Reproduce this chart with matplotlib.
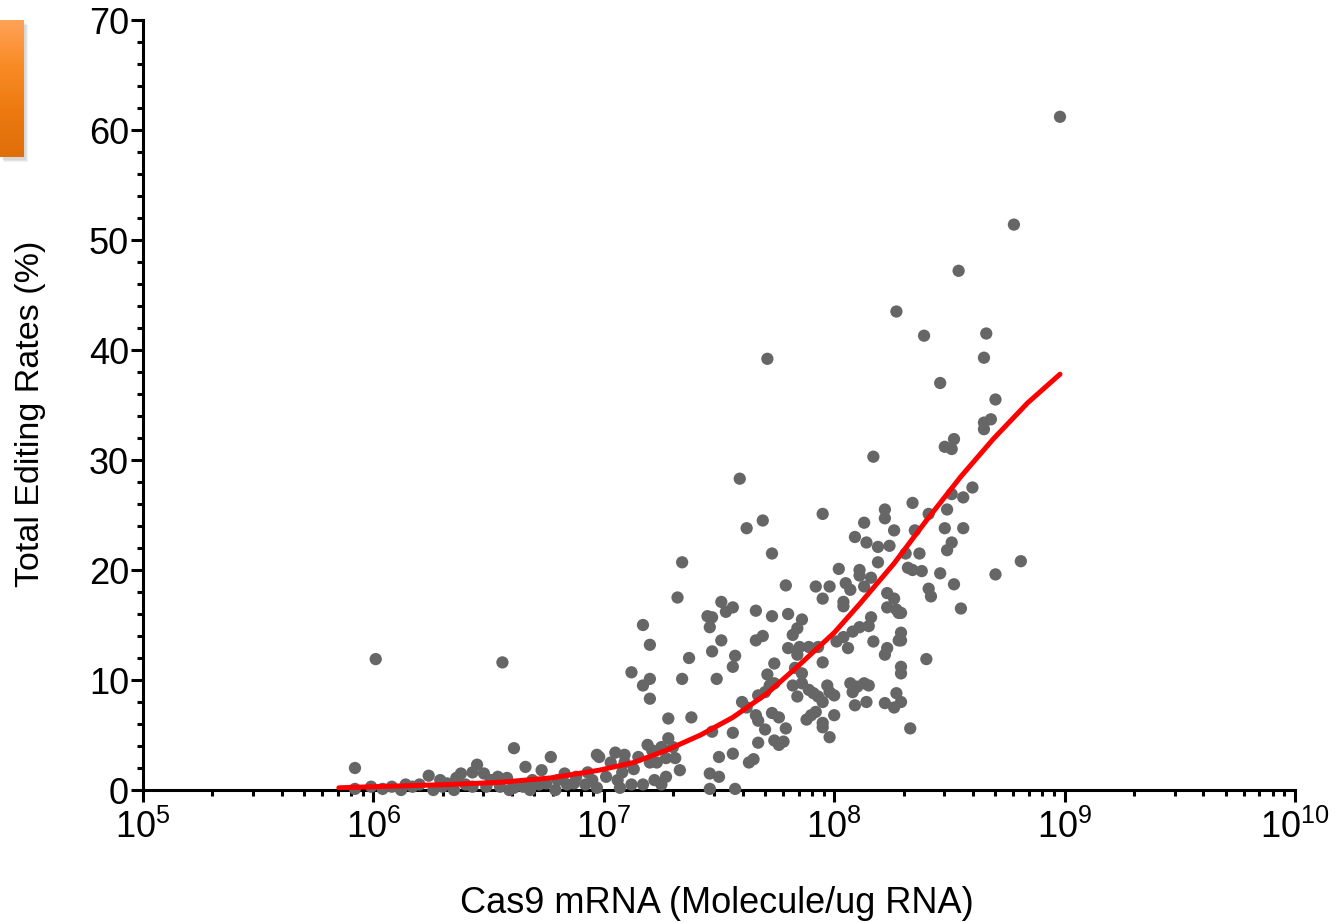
import numpy as np
import matplotlib
matplotlib.use('Agg')
import matplotlib.pyplot as plt
from matplotlib.ticker import LogLocator, MultipleLocator, NullFormatter
from matplotlib.patches import Rectangle
from matplotlib.colors import LinearSegmentedColormap

plt.rcParams['font.family'] = ['Liberation Sans', 'DejaVu Sans']
plt.rcParams['mathtext.fontset'] = 'custom'
plt.rcParams['mathtext.rm'] = 'Liberation Sans'
plt.rcParams['mathtext.it'] = 'Liberation Sans:italic'
plt.rcParams['mathtext.bf'] = 'Liberation Sans:bold'
plt.rcParams['mathtext.default'] = 'regular'

# ---- data: log10(Cas9 mRNA molecules / ug RNA) and total editing rate (%) ----
log_cas9 = [
    # low range (1e6 - 1e7)
    6.01, 6.56, 5.92, 5.92, 6.24, 6.04, 6.08, 6.12, 6.26, 6.30, 6.32, 6.36, 6.38, 6.43,
    6.45, 6.48, 6.43, 6.49, 6.54, 6.58, 6.61, 6.66, 6.61, 6.65, 6.69, 6.73, 6.77, 6.75,
    6.80, 6.83, 6.87, 6.88, 6.93, 6.97, 6.97, 6.17, 6.20, 6.29, 6.35, 6.40, 6.51, 6.55,
    6.59, 6.68, 6.72, 6.79, 6.84, 6.92, 6.95, 5.99, 6.14,
    # 1e7 - 5e7
    7.34, 7.32, 7.51, 7.56, 7.53, 7.66, 7.45, 7.47, 7.46, 7.17, 7.20, 7.51, 7.47, 7.66,
    7.37, 7.57, 7.56, 7.12, 7.20, 7.17, 7.34, 7.49, 7.20, 7.67, 7.28, 7.38, 7.60, 7.62,
    7.66, 7.67, 7.67, 7.47, 7.56, 7.28, 7.19, 7.21, 7.25, 7.30, 7.05, 7.09, 7.15, 7.03,
    7.09, 7.13, 7.20, 7.23, 7.27, 7.31, 7.33, 7.08, 7.50, 7.56, 7.63, 7.65, 6.98, 7.01,
    7.06, 7.12, 7.17, 7.22, 7.25, 7.27, 7.46, 7.50, 7.46, 7.57, 7.07, 7.59, 7.62,
    # 5e7 - 2e8
    7.69, 7.95, 8.22, 8.22, 7.73, 8.13, 8.26, 8.09, 8.14, 8.19, 8.24, 8.19, 8.02, 8.11,
    8.16, 8.11, 7.79, 7.92, 7.98, 8.05, 8.07, 8.13, 7.95, 8.04, 8.04, 8.23, 8.26, 8.27,
    8.23, 7.73, 7.80, 7.86, 7.84, 7.82, 8.16, 8.28, 8.11, 8.15, 8.08, 8.04, 8.01, 8.06,
    8.17, 7.69, 7.80, 7.85, 7.89, 7.93, 7.84, 7.95, 8.29, 8.28, 8.23, 8.22, 7.74, 7.71,
    7.83, 7.86, 8.29, 8.29, 7.72, 7.70, 7.74, 7.82, 7.84, 7.86, 7.89, 7.91, 7.93, 7.95,
    7.97, 7.98, 8.00, 8.07, 8.08, 8.10, 8.13, 8.15, 8.09, 8.14, 8.22, 8.26, 8.27, 8.29,
    7.73, 7.76, 7.70, 7.92, 7.90, 7.88, 8.00, 7.95, 7.95, 7.98, 7.79, 7.74, 7.76, 7.78,
    8.33, 7.71, 8.17, 8.27,
    # 2e8 - 1e9
    8.70, 8.68, 8.65, 8.65, 8.52, 8.48, 8.51, 8.60, 8.51, 8.56, 8.34, 8.49, 8.41, 8.35,
    8.48, 8.56, 8.37, 8.51, 8.49, 8.31, 8.32, 8.34, 8.38, 8.46, 8.52, 8.70, 8.81, 8.41,
    8.42, 8.55, 8.29, 8.29, 8.40,
    8.98, 8.78, 8.54, 8.39, 8.66, 8.65, 8.46,
]
editing_rate = [
    11.9, 11.6, 2.0, 0.1, 1.3, 0.1, 0.3, 0.0, 0.0, 0.3, 0.6, 1.1, 1.5, 1.6,
    2.3, 1.5, 0.3, 0.3, 1.2, 1.1, 3.8, 2.1, 0.2, 0.3, 0.9, 1.8, 3.0, 0.6,
    0.9, 1.5, 0.6, 1.2, 1.6, 3.2, 0.2, 0.3, 0.5, 0.9, 0.0, 0.5, 0.9, 0.3,
    0.0, 0.0, 0.5, 0.0, 0.5, 0.5, 0.9, 0.3, 0.5,
    20.7, 17.5, 17.1, 16.6, 16.2, 16.3, 15.8, 15.7, 14.8, 15.0, 13.2, 13.6, 12.6, 13.6,
    12.0, 12.2, 11.2, 10.7, 10.1, 9.5, 10.1, 10.1, 8.3, 8.6, 6.5, 6.6, 8.0, 7.5,
    6.8, 6.3, 4.3, 5.3, 5.2, 4.7, 4.1, 3.6, 3.9, 3.9, 3.4, 3.2, 3.0, 2.5,
    2.5, 1.9, 2.5, 2.5, 2.9, 2.9, 1.8, 1.6, 3.0, 3.3, 2.5, 2.8, 3.0, 1.2,
    0.9, 0.5, 0.5, 0.9, 0.5, 1.2, 1.5, 1.2, 0.1, 0.1, 0.2, 28.3, 23.8,
    24.5, 25.1, 25.5, 24.7, 21.5, 24.3, 23.6, 23.0, 22.5, 22.1, 22.2, 20.7, 20.1, 20.0,
    19.3, 19.5, 18.6, 18.5, 18.5, 18.8, 18.2, 18.5, 17.4, 17.1, 16.7, 17.9, 17.4, 16.4,
    16.6, 15.8, 16.0, 15.5, 14.7, 14.1, 15.7, 16.1, 14.8, 14.9, 14.4, 13.9, 13.5, 12.9,
    13.5, 14.0, 12.9, 13.0, 13.0, 13.0, 12.3, 11.6, 14.3, 13.6, 12.9, 12.3, 11.5, 10.5,
    11.1, 10.6, 11.2, 10.6, 9.5, 8.9, 9.7, 9.5, 8.5, 9.7, 9.1, 8.8, 8.5, 8.0,
    9.5, 8.9, 8.6, 9.7, 8.9, 9.4, 9.7, 9.5, 7.7, 8.0, 7.9, 7.5, 8.8, 8.0,
    7.0, 6.6, 5.5, 7.1, 6.8, 6.4, 6.8, 6.1, 5.7, 4.8, 5.6, 4.5, 4.1, 4.4,
    5.6, 39.2, 30.3, 43.5,
    35.5, 33.7, 33.4, 32.8, 31.9, 31.2, 31.0, 27.5, 26.9, 26.6, 26.1, 25.5, 25.1, 23.6,
    23.8, 23.8, 21.5, 22.5, 21.8, 21.5, 20.2, 20.0, 19.9, 19.7, 18.7, 19.6, 20.8, 18.3,
    17.6, 16.5, 16.1, 13.6, 11.9,
    61.2, 51.4, 47.2, 41.3, 41.5, 39.3, 37.0,
]

# fitted curve
fit_log_cas9 = [5.85, 6.00, 6.33, 6.55, 6.77, 6.98, 7.13, 7.27, 7.42, 7.56, 7.71,
                7.85, 8.00, 8.11, 8.26, 8.40, 8.55, 8.69, 8.84, 8.98]
fit_rate = [0.2, 0.3, 0.5, 0.7, 1.1, 1.8, 2.5, 3.6, 5.0, 6.6, 8.8,
            11.4, 14.3, 16.9, 20.6, 24.5, 28.5, 31.9, 35.2, 37.8]

x_label = "Cas9 mRNA (Molecule/ug RNA)"
y_label = "Total Editing Rates (%)"

W, H = 1337, 923
fig = plt.figure(figsize=(W / 100, H / 100), dpi=100)

# decorative orange block at top-left (with soft shadow)
for i, a in enumerate([0.10, 0.10, 0.10]):
    fig.patches.append(Rectangle(((2 + i) / W, 1 - (160 + i) / H), 24 / W, 137 / H,
                                 transform=fig.transFigure, facecolor='#777777',
                                 alpha=a, edgecolor='none', zorder=-5))
box_ax = fig.add_axes([0, 1 - 157 / H, 24 / W, 137 / H], zorder=1)
cmap = LinearSegmentedColormap.from_list('og', ['#FFA257', '#F98B25', '#EC7A10', '#E06E0A'])
box_ax.imshow(np.linspace(0, 1, 100).reshape(-1, 1), aspect='auto', cmap=cmap)
box_ax.axis('off')

ax = fig.add_axes([143 / W, 1 - 790 / H, 1152 / W, 770 / H], zorder=2)
ax.patch.set_alpha(0)
ax.scatter(10 ** np.array(log_cas9), editing_rate, s=78, color='#666666',
           edgecolors='none', clip_on=False, zorder=3)
ax.plot(10 ** np.array(fit_log_cas9), fit_rate, color='#FF0000', lw=3.6,
        solid_capstyle='round', solid_joinstyle='round', zorder=4)

ax.set_xscale('log')
ax.set_xlim(1e5, 1e10)
ax.set_ylim(0, 70)
for s in ['top', 'right']:
    ax.spines[s].set_visible(False)
for s in ['left', 'bottom']:
    ax.spines[s].set_linewidth(2.2)

ax.xaxis.set_major_locator(LogLocator(base=10, numticks=20))
ax.xaxis.set_minor_locator(LogLocator(base=10, subs=np.arange(2, 10), numticks=100))
ax.xaxis.set_minor_formatter(NullFormatter())
ax.yaxis.set_major_locator(MultipleLocator(10))
ax.yaxis.set_minor_locator(MultipleLocator(2))

ax.tick_params(axis='both', which='major', length=8.6, width=2.2, labelsize=26,
               direction='out', color='black')
ax.tick_params(axis='both', which='minor', length=4.3, width=2.2, direction='out')
ax.tick_params(axis='y', which='major', pad=1.5)
ax.tick_params(axis='x', which='major', pad=6)

ax.set_xlabel(x_label, fontsize=26)
ax.set_ylabel(y_label, fontsize=24.5)
ax.xaxis.set_label_coords(0.498, -0.125)
ax.yaxis.set_label_coords(-0.084, 0.488)

fig.savefig('out.png', dpi=100)
